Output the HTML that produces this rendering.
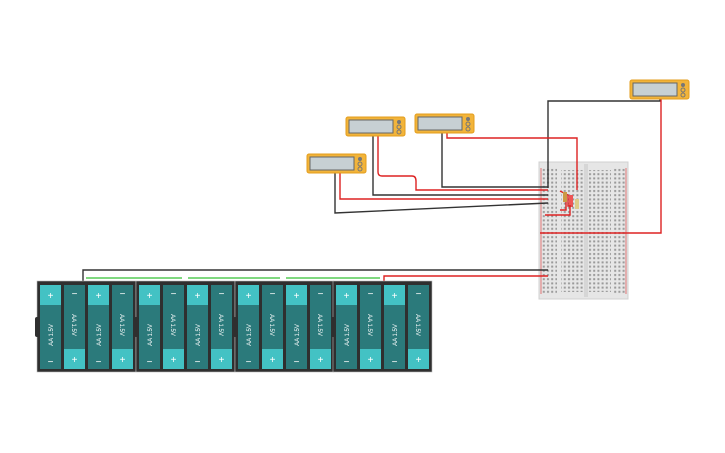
<!DOCTYPE html>
<html><head><style>body{margin:0;background:#fff}svg{display:block}</style></head><body>
<svg width="725" height="453" xmlns="http://www.w3.org/2000/svg" font-family="Liberation Sans, sans-serif">
<defs>
<pattern id="holes" width="4.2" height="4.2" patternUnits="userSpaceOnUse"><rect x="1" y="1" width="2" height="2" fill="#9a9a9a"/></pattern>
<g id="cellUp"><rect x="0" y="0" width="21" height="84" fill="#2b7a7b"/><rect x="0" y="0" width="21" height="20" fill="#43c2c4"/><text x="10.5" y="14" font-size="10" fill="#fff" text-anchor="middle">+</text><text x="10.5" y="80" font-size="10" fill="#fff" text-anchor="middle">−</text><text transform="translate(13,50) rotate(-90)" font-size="6" fill="#fff" text-anchor="middle">AA 1.5V</text></g>
<g id="cellDn"><rect x="0" y="0" width="21" height="84" fill="#2b7a7b"/><rect x="0" y="64" width="21" height="20" fill="#43c2c4"/><text x="10.5" y="12" font-size="10" fill="#fff" text-anchor="middle">−</text><text x="10.5" y="78" font-size="10" fill="#fff" text-anchor="middle">+</text><text transform="translate(8,40) rotate(90)" font-size="6" fill="#fff" text-anchor="middle">AA 1.5V</text></g>
<g id="pack"><rect x="0" y="0" width="99" height="91" fill="#2f2f2f" stroke="#bbb" stroke-width="0.6"/><use href="#cellUp" x="3" y="4"/><use href="#cellDn" x="27" y="4"/><use href="#cellUp" x="51" y="4"/><use href="#cellDn" x="75" y="4"/><rect x="-2" y="36" width="5" height="20" rx="2" fill="#2f2f2f"/></g>
<g id="meter"><rect x="0" y="0" width="59" height="19" rx="2" fill="#f2b43a" stroke="#e39d1c"/><rect x="3" y="3" width="44" height="13" fill="#c7d0d3" stroke="#666"/><circle cx="53" cy="5" r="2" fill="#777"/><circle cx="53" cy="10" r="2" fill="none" stroke="#777"/><circle cx="53" cy="15" r="2" fill="none" stroke="#777"/></g>
</defs>
<!-- breadboard -->
<rect x="539" y="162" width="89" height="137" fill="#e6e6e6" stroke="#d0d0d0"/>
<rect x="541" y="168" width="16" height="126" fill="url(#holes)"/>
<rect x="561" y="170" width="22" height="122" fill="url(#holes)"/>
<rect x="589" y="170" width="22" height="122" fill="url(#holes)"/>
<rect x="613" y="168" width="13" height="126" fill="url(#holes)"/>
<line x1="541" y1="168" x2="541" y2="294" stroke="#d44" stroke-width="0.7"/>
<line x1="626" y1="168" x2="626" y2="294" stroke="#d44" stroke-width="0.7"/>
<rect x="584" y="164" width="4" height="133" fill="#d6d6d6"/>
<!-- wires -->
<g fill="none" stroke-width="1.4">
<path d="M548 188 V101 H660 V98" stroke="#333"/>
<path d="M661 98 V233 H540" stroke="#d22"/>
<path d="M442 132 V187 H548" stroke="#333"/>
<path d="M447 132 V138 H577 V190" stroke="#d22"/>
<path d="M373 135 V195 H548" stroke="#333"/>
<path d="M378 135 V172 Q378 176 382 176 H412 Q416 176 416 181 V190 H548" stroke="#d22"/>
<path d="M335 173 V213 L548 203" stroke="#333"/>
<path d="M340 173 V199 H548" stroke="#d22"/>
<path d="M83 281 V270 H548" stroke="#333"/>
<path d="M384 281 V276 H548" stroke="#d22"/>
<path d="M86 278 H182 M188 278 H280 M286 278 H380" stroke="#5c5"/>
<path d="M560 210 H566 V200 M560 191 L568 195 V206 H573 M570 195 V215 H545" stroke="#d22"/>
</g>
<rect x="563" y="192" width="4" height="10" fill="#c94"/><rect x="569" y="195" width="4" height="10" fill="#e55"/><rect x="575" y="199" width="4" height="10" fill="#dc8"/>
<!-- batteries -->
<use href="#pack" x="37" y="281"/><use href="#pack" x="136" y="281"/><use href="#pack" x="235" y="281"/><use href="#pack" x="333" y="281"/>
<!-- meters -->
<use href="#meter" x="307" y="154"/><use href="#meter" x="346" y="117"/><use href="#meter" x="415" y="114"/><use href="#meter" x="630" y="80"/>
</svg>
</body></html>
